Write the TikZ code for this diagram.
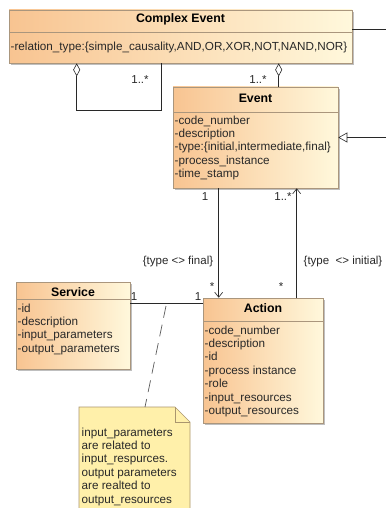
\documentclass[tikz,border=0pt]{standalone}
\usepackage{fontspec}
\setmainfont{Liberation Sans}
\usetikzlibrary{arrows.meta,shadows}
\definecolor{boxl}{RGB}{248,196,145}
\definecolor{boxr}{RGB}{255,248,220}
\definecolor{boxdraw}{RGB}{170,150,125}
\definecolor{notefill}{RGB}{255,240,170}
\definecolor{notedraw}{RGB}{170,150,110}
\definecolor{ink}{RGB}{40,40,40}
\begin{document}
\begin{tikzpicture}[x=1pt,y=-1pt,
  classbox/.style={draw=boxdraw, line width=0.6pt, left color=boxl, right color=boxr, inner sep=0pt,
    drop shadow={shadow xshift=2pt, shadow yshift=-2pt, fill=black, opacity=0.25}},
  divider/.style={draw=boxdraw, line width=0.6pt},
  ctitle/.style={font=\fontsize{12.3}{14}\selectfont\bfseries, inner sep=0pt, text=black},
  attrs/.style={font=\fontsize{11.7}{13.4}\selectfont, align=left, anchor=north west, inner sep=0pt, text=ink},
  lbl/.style={font=\fontsize{11.5}{13}\selectfont, inner sep=0pt, text=ink},
  conn/.style={draw=ink, line width=0.6pt},
  agg/.style={conn, {Diamond[open,length=13pt,width=7pt]}-},
  nav/.style={conn, -{Straight Barb[length=5pt,width=8pt]}},
  gen/.style={conn, -{Triangle[open,length=9pt,width=10pt]}},
  notelink/.style={draw=black!65, line width=0.7pt, dash pattern=on 12pt off 7pt}
]
\useasboundingbox (0,0) rectangle (386,508);
\fill[white] (0,0) rectangle (386,508);

% Complex Event
\node[classbox, minimum width=343pt, minimum height=53pt] (ce) at (180.5,36.5) {};
\draw[divider] (9,32) -- (352,32);
\node[ctitle] (cet) at (180.5,19.5) {Complex Event};
\node[attrs] (cea) at (10.5,42) {-relation\_type:\{simple\_causality,AND,OR,XOR,NOT,NAND,NOR\}};

% Event
\node[classbox, minimum width=165pt, minimum height=101pt] (ev) at (255.5,137.5) {};
\draw[divider] (173,112) -- (338,112);
\node[ctitle] (evt) at (255.5,98) {Event};
\node[attrs] (eva) at (174.5,115.5) {-code\_number\\-description\\-type:\{initial,intermediate,final\}\\-process\_instance\\-time\_stamp};

% Action
\node[classbox, minimum width=120pt, minimum height=125pt] (ac) at (263,360.5) {};
\draw[divider] (203,321) -- (323,321);
\node[ctitle] (act) at (263,308) {Action};
\node[attrs] (aca) at (204.5,325.5) {-code\_number\\-description\\-id\\-process instance\\-role\\-input\_resources\\-output\_resources};

% Service
\node[classbox, minimum width=114pt, minimum height=87pt] (sv) at (73,325.5) {};
\draw[divider] (16,299) -- (130,299);
\node[ctitle] (svt) at (73,292) {Service};
\node[attrs] (sva) at (17.5,303.5) {-id\\-description\\-input\_parameters\\-output\_parameters};

% Note
\fill[notefill] (79,407) -- (175,407) -- (190,422) -- (190,510) -- (79,510) -- cycle;
\draw[draw=notedraw, line width=0.6pt] (79,510) -- (79,407) -- (175,407) -- (190,422) -- (190,510);
\draw[draw=notedraw, line width=0.6pt] (175,407) -- (175,422) -- (190,422);
\node[attrs] (note) at (81.5,427.5) {input\_parameters\\are related to\\input\_respurces.\\output parameters\\are realted to\\output\_resources};
\coordinate (notetop) at (145,407);

% free ends
\coordinate (cer) at (386,29);
\coordinate (genend) at (386,137.5);

% connectors
\draw[conn] (ce.east |- cer) -- (cer);
\draw[gen] (genend) -- (ev.east);
\draw[agg] ([xshift=68pt]ce.south west) -- ++(0,47) -| ([xshift=153pt]ce.south west);
\draw[agg] ([xshift=270pt]ce.south west) -- ([xshift=106pt]ev.north west);
\draw[nav] ([xshift=46pt]ev.south west) -- ([xshift=16pt]ac.north west);
\draw[nav] ([xshift=94pt]ac.north west) -- ([xshift=124pt]ev.south west);
\draw[conn] ([yshift=-22pt]sv.north east) -- ([yshift=-6pt]ac.north west);
\coordinate (asc) at (166,306);
\draw[notelink] (asc) -- (notetop);

% labels
\node[lbl] (l1) at (140,80) {1..*};
\node[lbl] (l2) at (258,80) {1..*};
\node[lbl] (l3) at (205,197) {1};
\node[lbl] (l4) at (283,197) {1..*};
\node[lbl] (l5) at (178,262) {\{type \textless\textgreater{} final\}};
\node[lbl] (l6) at (343,262) {\{type~~\textless\textgreater{} initial\}};
\node[lbl] (l7) at (212,287) {*};
\node[lbl] (l8) at (281,287) {*};
\node[lbl] (l9) at (134,297) {1};
\node[lbl] (l10) at (198,297) {1};
\end{tikzpicture}
\end{document}
